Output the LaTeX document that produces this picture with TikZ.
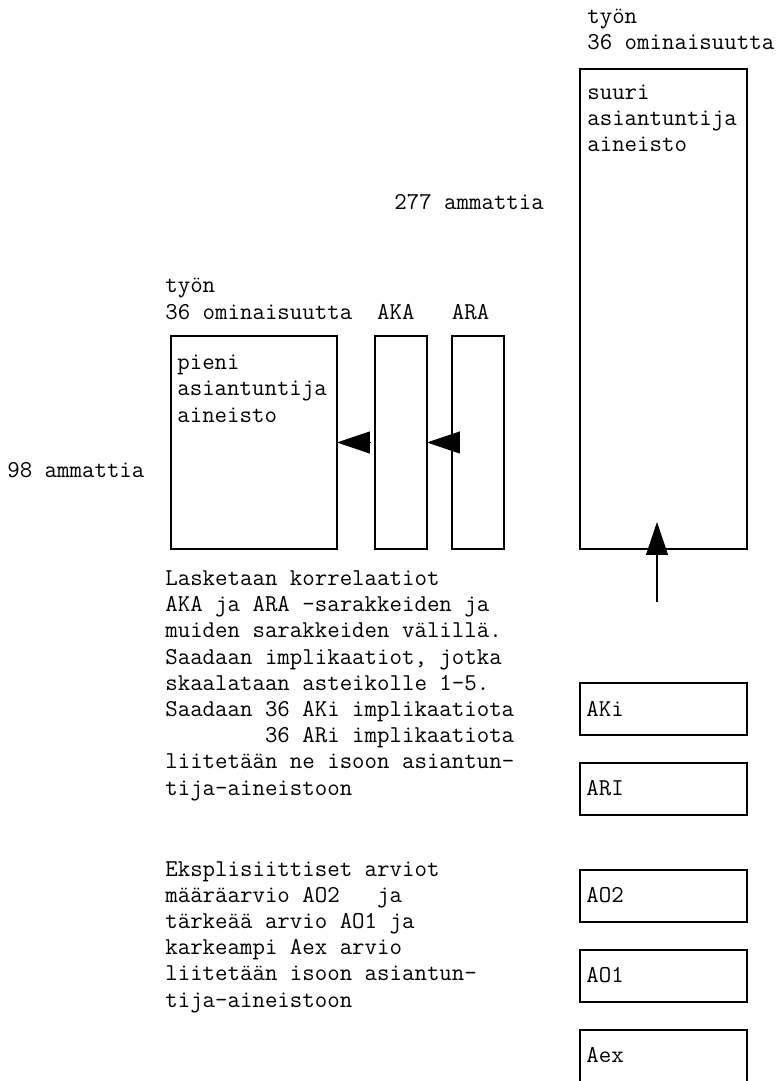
\documentclass[tikz,border=0pt]{standalone}
\usepackage{fontspec}
\usetikzlibrary{positioning,calc,arrows.meta}
\tikzset{
	box/.style={draw, line width=0.7pt, inner sep=0pt, outer sep=0pt, anchor=north west},% plain rectangle
	wide/.style={box, minimum width=3.34cm},
	narrow/.style={box, minimum width=1.04cm, minimum height=4.26cm},
	txt/.style={font=\ttfamily\fontsize{13.77}{14.9}\selectfont, inner sep=0pt, align=left, anchor=base west},% base = last line
	tip/.style={line width=0.6pt, -{Triangle[length=0.66cm, width=0.44cm]}}
}

\begin{document}
\frenchspacing
\begin{tikzpicture}[x=0.02cm, y=0.02cm]
	\clip (0,0) rectangle (783,-1081);
	% big data set
	\node[wide, minimum height=9.6cm] (suuri) at (580,-69) {};
	\node[txt] (tyonA) at (587,-50) {työn\\36 ominaisuutta};
	\node[txt] (suuritxt) at ($(suuri.north west)+(7,-83)$) {suuri\\asiantuntija\\aineisto};
	\node[txt] (amm277) at (394,-210) {277 ammattia};
	% small data set with AKA and ARA columns
	\node[box, minimum width=3.32cm, minimum height=4.26cm] (pieni) at (171,-336) {};
	\node[narrow, right=0.76cm of pieni] (aka) {};
	\node[narrow, right=0.5cm of aka] (ara) {};
	\node[txt] (tyonB) at (165,-319) {työn\\36 ominaisuutta\ \ AKA\ \ \ ARA};
	\node[txt] (pienitxt) at ($(pieni.north west)+(6,-86)$) {pieni\\asiantuntija\\aineisto};
	\node[txt] (amm98) at (7,-477) {98 ammattia};
	\draw[tip, shorten <=0.1cm] (aka.west) -- (pieni.east);
	\draw[tip] ($(ara.west)+(6,0)$) -- (aka.east);
	% implications
	\node[wide, minimum height=1.04cm] (aki) at (580,-683) {};
	\node[wide, minimum height=1.04cm, below=0.56cm of aki] (ari) {};
	\node[txt] at ($(aki.west)+(6,-7)$) (akitxt) {AKi};
	\node[txt] at ($(ari.west)+(6,-7)$) (aritxt) {ARI};
	\node[txt] (lask) at (165,-795) {Lasketaan korrelaatiot\\
		AKA ja ARA -sarakkeiden ja\\
		muiden sarakkeiden välillä.\\
		Saadaan implikaatiot, jotka\\
		skaalataan asteikolle 1-5.\\
		Saadaan 36 AKi implikaatiota\\
		\hphantom{Saadaan\ }36 ARi implikaatiota\\
		liitetään ne isoon asiantun-\\
		tija-aineistoon};
	\coordinate (feed) at (657,-602);
	\coordinate (feedtip) at (657,-522);
	\draw[tip] (feed) -- (feedtip);
	% explicit ratings
	\node[wide, minimum height=1.04cm, below=1.1cm of ari] (ao2) {};
	\node[wide, minimum height=1.04cm, below=0.56cm of ao2] (ao1) {};
	\node[wide, minimum height=1.04cm, below=0.56cm of ao1] (aex) {};
	\node[txt] at ($(ao2.west)+(6,-7)$) (ao2txt) {AO2};
	\node[txt] at ($(ao1.west)+(6,-7)$) (ao1txt) {AO1};
	\node[txt] at ($(aex.west)+(6,-7)$) (aextxt) {Aex};
	\node[txt] (ekspl) at (165,-1007) {Eksplisiittiset arviot\\
		määräarvio AO2\ \ \ ja\\
		tärkeää arvio AO1 ja\\
		karkeampi Aex arvio\\
		liitetään isoon asiantun-\\
		tija-aineistoon};
\end{tikzpicture}
\end{document}
